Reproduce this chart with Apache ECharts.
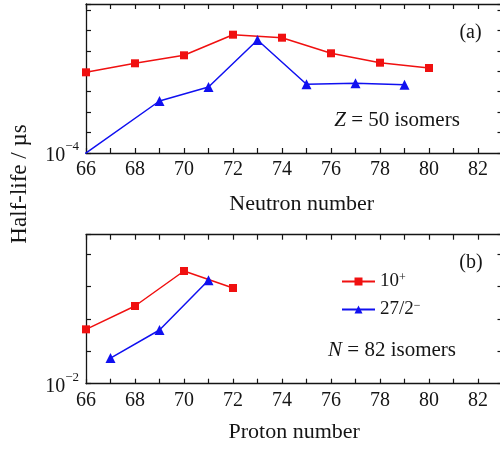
<!DOCTYPE html>
<html>
<head>
<meta charset="utf-8">
<script src="https://cdn.jsdelivr.net/npm/echarts@6/dist/echarts.min.js"></script>
<style>
html, body { margin: 0; padding: 0; background: #fff; }
#chart { width: 500px; height: 450px; }
</style>
</head>
<body>
<div id="chart"></div>
<script>
// Z = 50 (Sn) isomers: half-life in microseconds vs neutron number
const snNeutrons10 = [66, 68, 70, 72, 74, 76, 78, 80];
const snHalfLife10 = [0.89, 2.46, 6.05, 61.8, 44.0, 7.59, 2.63, 1.45];
const snNeutrons27 = [65, 69, 71, 73, 75, 77, 79];
const snHalfLife27 = [1.42e-5, 0.0351, 0.170, 34.0, 0.231, 0.258, 0.220];

// N = 82 isomers: half-life in microseconds vs proton number
const n82Protons10 = [66, 68, 70, 72];
const n82HalfLife10 = [0.475, 2.49, 29.9, 8.93];
const n82Protons27 = [67, 69, 71];
const n82HalfLife27 = [0.0619, 0.453, 15.4];

const seriesNames = ['10+', '27/2−'];
const xTickLabels = [66, 68, 70, 72, 74, 76, 78, 80, 82];
const snRange = [1e-4, Math.pow(10, 3.293)];
const n82Range = [1e-2, Math.pow(10, 2.595)];

const FONT = 'Liberation Serif';
const INK = '#151515';
const RED = '#f01010';
const BLUE = '#1010f0';

const pairs = (xs, ys) => xs.map((x, i) => [x, ys[i]]);

function xAxisFor(grid, pos, name, nameGap, namePad) {
  return {
    type: 'value', gridIndex: grid, position: pos,
    min: 66, max: 83, interval: 1,
    axisLine: { show: true, onZero: false, lineStyle: { color: INK, width: 1.3 } },
    axisTick: { show: true, inside: true, length: 5, lineStyle: { color: INK, width: 1.2 } },
    axisLabel: {
      show: pos === 'bottom', margin: 7,
      fontFamily: FONT, fontSize: 20, color: INK,
      formatter: v => xTickLabels.includes(v) ? String(v) : ''
    },
    splitLine: { show: false },
    name: pos === 'bottom' ? name : '',
    nameLocation: 'middle', nameGap: nameGap,
    nameTextStyle: { fontFamily: FONT, fontSize: 22, color: INK, padding: namePad }
  };
}

function yAxisFor(grid, pos, range, expo) {
  return {
    type: 'log', logBase: 10, gridIndex: grid, position: pos,
    min: range[0], max: range[1],
    axisLine: { show: true, onZero: false, lineStyle: { color: INK, width: 1.3 } },
    axisTick: { show: true, inside: true, length: 5, lineStyle: { color: INK, width: 1.2 } },
    axisLabel: {
      show: pos === 'left', margin: 7,
      formatter: v => Math.abs(Math.log10(v) - Math.log10(range[0])) < 1e-6 ? '{b|10}{s|' + expo + '}' : '',
      rich: {
        b: { fontFamily: FONT, fontSize: 20, color: INK, padding: [6, 0, 0, 0] },
        s: { fontFamily: FONT, fontSize: 13, color: INK, verticalAlign: 'top' }
      }
    },
    splitLine: { show: false }
  };
}

const squareStyle = { symbol: 'rect', symbolSize: 8, itemStyle: { color: RED }, lineStyle: { color: RED, width: 1.5 } };
const triStyle = { symbol: 'triangle', symbolSize: 10, itemStyle: { color: BLUE }, lineStyle: { color: BLUE, width: 1.5 } };

const chart = echarts.init(document.getElementById('chart'), null, { renderer: 'canvas' });
chart.setOption({
  animation: false,
  backgroundColor: '#fff',
  grid: [
    { left: 86, top: 4, width: 416.5, height: 149, containLabel: false, outerBoundsMode: 'none' },
    { left: 86, top: 234.7, width: 416.5, height: 149, containLabel: false, outerBoundsMode: 'none' }
  ],
  xAxis: [
    xAxisFor(0, 'bottom', 'Neutron number', 40, [0, 0, 0, 15]),
    xAxisFor(0, 'top'),
    xAxisFor(1, 'bottom', 'Proton number', 38, [0, 0, 0, 0]),
    xAxisFor(1, 'top')
  ],
  yAxis: [
    yAxisFor(0, 'left', snRange, '−4'),
    yAxisFor(0, 'right', snRange, '−4'),
    yAxisFor(1, 'left', n82Range, '−2'),
    yAxisFor(1, 'right', n82Range, '−2')
  ],
  legend: {
    orient: 'vertical', left: 336, top: 267,
    itemWidth: 33, itemHeight: 10, itemGap: 9,
    data: seriesNames,
    formatter: n => n === seriesNames[0] ? '10{sup|+}' : '27/2{sup|−}',
    textStyle: {
      fontFamily: FONT, fontSize: 19, color: INK, padding: [0, 0, 0, 0],
      rich: { sup: { fontFamily: FONT, fontSize: 12, color: INK, verticalAlign: 'top' } }
    }
  },
  series: [
    Object.assign({ type: 'line', name: seriesNames[0], xAxisIndex: 0, yAxisIndex: 0, clip: true,
      data: pairs(snNeutrons10, snHalfLife10) }, squareStyle),
    Object.assign({ type: 'line', name: seriesNames[1], xAxisIndex: 0, yAxisIndex: 0, clip: true,
      data: pairs(snNeutrons27, snHalfLife27) }, triStyle),
    Object.assign({ type: 'line', name: seriesNames[0], xAxisIndex: 2, yAxisIndex: 2, clip: true,
      data: pairs(n82Protons10, n82HalfLife10) }, squareStyle),
    Object.assign({ type: 'line', name: seriesNames[1], xAxisIndex: 2, yAxisIndex: 2, clip: true,
      data: pairs(n82Protons27, n82HalfLife27) }, triStyle)
  ],
  graphic: [
    { type: 'text', x: 20, y: 184, rotation: Math.PI / 2,
      style: { text: 'Half-life / µs', fontFamily: FONT, fontSize: 23, fill: INK, align: 'center', verticalAlign: 'middle' } },
    { type: 'text', x: 470.5, y: 33,
      style: { text: '(a)', fontFamily: FONT, fontSize: 20, fill: INK, align: 'center', verticalAlign: 'middle' } },
    { type: 'text', x: 397, y: 120.5,
      style: { text: '{i|Z} = 50 isomers', fontFamily: FONT, fontSize: 21, fill: INK, align: 'center', verticalAlign: 'middle',
        rich: { i: { fontFamily: FONT, fontSize: 21, fontStyle: 'italic', fill: INK } } } },
    { type: 'text', x: 471, y: 263,
      style: { text: '(b)', fontFamily: FONT, fontSize: 20, fill: INK, align: 'center', verticalAlign: 'middle' } },
    { type: 'text', x: 392, y: 350,
      style: { text: '{i|N} = 82 isomers', fontFamily: FONT, fontSize: 21, fill: INK, align: 'center', verticalAlign: 'middle',
        rich: { i: { fontFamily: FONT, fontSize: 21, fontStyle: 'italic', fill: INK } } } }
  ]
});
</script>
</body>
</html>
